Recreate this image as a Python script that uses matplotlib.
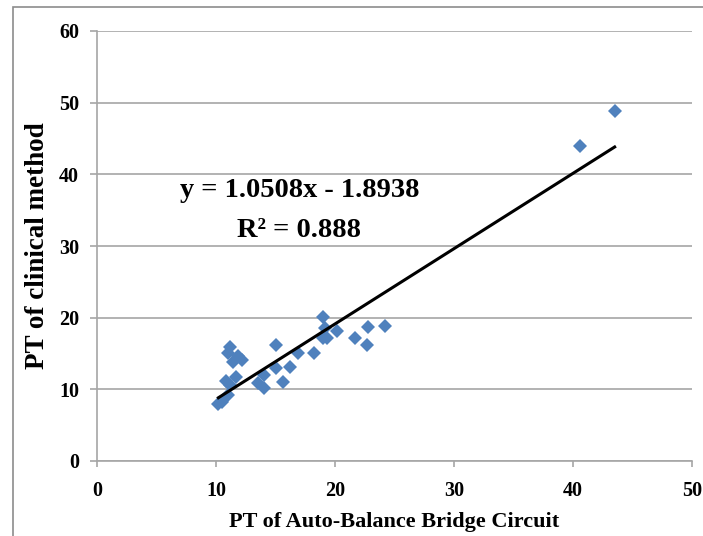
import matplotlib
matplotlib.use("Agg")
import matplotlib.pyplot as plt
import numpy as np
from matplotlib.patches import Rectangle

# Data
bridge_pt = [11.2, 11.0, 11.85, 11.4, 12.2, 15.0, 10.8, 11.7, 11.2, 10.5, 11.0,
             13.5, 14.0, 14.0, 15.0, 15.6, 19.0, 19.2, 19.0, 19.3, 20.2, 21.7,
             22.7, 22.8, 24.2, 16.9, 18.2, 16.2, 10.2, 40.6, 43.5]
clinical_pt = [15.9, 15.1, 14.6, 13.8, 14.1, 16.2, 11.2, 11.7, 10.6, 8.2, 9.2,
               10.9, 10.2, 12.0, 13.0, 11.0, 20.1, 18.5, 17.2, 17.2, 18.1, 17.2,
               16.2, 18.7, 18.8, 15.1, 15.1, 13.1, 8.0, 44.0, 48.8]
slope = 1.0508
intercept = -1.8938
r_squared = 0.888
x_ticks = [0, 10, 20, 30, 40, 50]
y_ticks = [0, 10, 20, 30, 40, 50, 60]

plt.rcParams['font.family'] = ['Liberation Serif', 'DejaVu Serif']

W, H = 703, 536
fig = plt.figure(figsize=(W / 100, H / 100), dpi=100)
ax = fig.add_axes([97 / W, 1 - 461 / H, (692 - 97) / W, (461 - 31) / H])

# outer chart-area border (partially cropped)
fig.patches.append(Rectangle((13 / W, -0.1), 1.2, 1 - 7 / H + 0.1,
                             transform=fig.transFigure, fill=False,
                             edgecolor='#8c8c8c', linewidth=1.2))

ax.plot(bridge_pt, clinical_pt, linestyle='none', marker='D', markersize=6.8,
        color='#4F81BD', markeredgewidth=0, zorder=3)

xs = np.array([min(bridge_pt), max(bridge_pt)])
ax.plot(xs, slope * xs + intercept, color='black', linewidth=2.2, zorder=4)

ax.set_xlim(0, 50)
ax.set_ylim(0, 60)
ax.set_xticks(x_ticks)
ax.set_yticks(y_ticks)
ax.set_xticklabels([str(t) for t in x_ticks], fontsize=14.5, fontweight='bold')
ax.set_yticklabels([str(t) for t in y_ticks], fontsize=14.5, fontweight='bold')
ax.grid(axis='y', color='#a6a6a6', linewidth=1.2)
ax.set_axisbelow(True)
for s in ['top', 'right']:
    ax.spines[s].set_visible(False)
for s in ['left', 'bottom']:
    ax.spines[s].set_color('#a6a6a6')
    ax.spines[s].set_linewidth(1.2)
ax.tick_params(axis='y', direction='out', length=5, color='#a6a6a6', width=1.2,
               pad=8)
ax.tick_params(axis='x', direction='out', length=4.5, color='#a6a6a6', width=1.2,
               pad=10)

ax.set_xlabel('PT of Auto-Balance Bridge Circuit', fontsize=16, fontweight='bold',
              labelpad=8)
ax.set_ylabel('PT of clinical method', fontsize=19.5, fontweight='bold', labelpad=6)

ax.text(17, 37.8, f'y = {slope}x - {abs(intercept)}', fontsize=20.5,
        fontweight='bold', ha='center', va='center')
ax.text(17, 32.2, f'R² = {r_squared}', fontsize=20.5,
        fontweight='bold', ha='center', va='center')

fig.savefig('out.png', dpi=100)
